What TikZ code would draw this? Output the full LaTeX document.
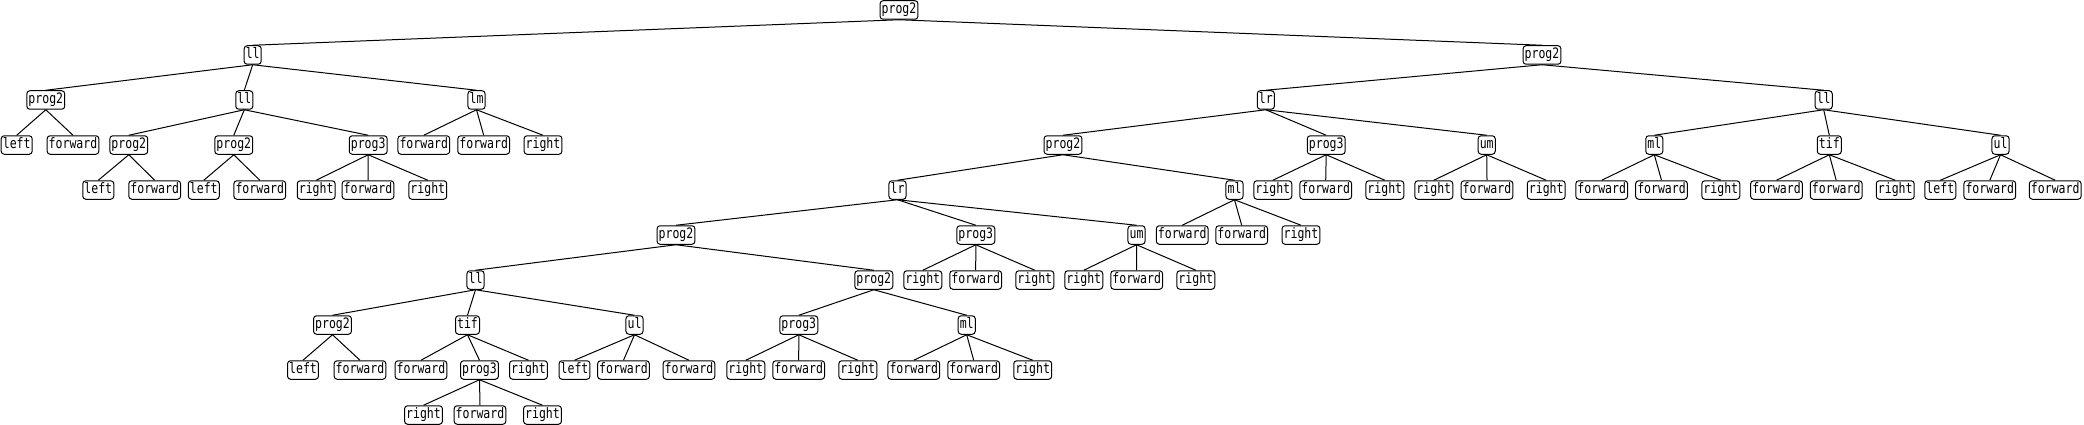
\documentclass[tikz,border=0pt]{standalone}
\usepackage{fontspec}
\setmonofont[FakeStretch=0.8]{DejaVu Sans Mono}

\begin{document}
\begin{tikzpicture}[x=1pt, y=-1pt,
    tn/.style={draw, line width=1pt, rounded corners=3pt,
        inner xsep=1.6pt, inner ysep=0pt, minimum height=18.5pt,
        text height=10.5pt, text depth=3pt,
        font=\ttfamily\fontsize{14.4}{15}\selectfont},
    edge/.style={line width=1pt}]

    % --- Frame (image size in px) ---
    \useasboundingbox (0,0) rectangle (2084,425);

    % --- Root ---
    \node[tn] (r) at (899,10) {prog2};

    % --- Left branch ---
    \node[tn] (r1) at (252.7,55) {ll};
    \node[tn] (r11) at (45.8,100) {prog2};
    \node[tn] (r111) at (16.7,145) {left};
    \node[tn] (r112) at (73,145) {forward};
    \node[tn] (r12) at (244.3,100) {ll};
    \node[tn] (r121) at (128.8,145) {prog2};
    \node[tn] (r1211) at (98.3,190) {left};
    \node[tn] (r1212) at (154.7,190) {forward};
    \node[tn] (r122) at (233.8,145) {prog2};
    \node[tn] (r1221) at (203.8,190) {left};
    \node[tn] (r1222) at (259.8,190) {forward};
    \node[tn] (r123) at (368.2,145) {prog3};
    \node[tn] (r1231) at (316.2,190) {right};
    \node[tn] (r1232) at (368,190) {forward};
    \node[tn] (r1233) at (427.8,190) {right};
    \node[tn] (r13) at (476.5,100) {lm};
    \node[tn] (r131) at (423.8,145) {forward};
    \node[tn] (r132) at (483.7,145) {forward};
    \node[tn] (r133) at (543,145) {right};

    % --- Right branch ---
    \node[tn] (r2) at (1542,55) {prog2};
    \node[tn] (r21) at (1265.8,100) {lr};
    \node[tn] (r211) at (1063,145) {prog2};
    \node[tn] (r2111) at (897.5,190) {lr};
    \node[tn] (r21111) at (676,235) {prog2};
    \node[tn] (r211111) at (475.5,280) {ll};
    \node[tn] (r2111111) at (332.5,325) {prog2};
    \node[tn] (r21111111) at (303,370) {left};
    \node[tn] (r21111112) at (360,370) {forward};
    \node[tn] (r2111112) at (467.5,325) {tif};
    \node[tn] (r21111121) at (421,370) {forward};
    \node[tn] (r21111122) at (479.5,370) {prog3};
    \node[tn] (r211111221) at (423.5,415) {right};
    \node[tn] (r211111222) at (480,415) {forward};
    \node[tn] (r211111223) at (542.5,415) {right};
    \node[tn] (r21111123) at (528.5,370) {right};
    \node[tn] (r2111113) at (634.5,325) {ul};
    \node[tn] (r21111131) at (574.5,370) {left};
    \node[tn] (r21111132) at (623.5,370) {forward};
    \node[tn] (r21111133) at (689,370) {forward};
    \node[tn] (r211112) at (873.8,280) {prog2};
    \node[tn] (r2111121) at (798.8,325) {prog3};
    \node[tn] (r21111211) at (745.8,370) {right};
    \node[tn] (r21111212) at (798.7,370) {forward};
    \node[tn] (r21111213) at (857.8,370) {right};
    \node[tn] (r2111122) at (966.7,325) {ml};
    \node[tn] (r21111221) at (913.8,370) {forward};
    \node[tn] (r21111222) at (973.7,370) {forward};
    \node[tn] (r21111223) at (1032.7,370) {right};
    \node[tn] (r21112) at (975.8,235) {prog3};
    \node[tn] (r211121) at (922.8,280) {right};
    \node[tn] (r211122) at (975.7,280) {forward};
    \node[tn] (r211123) at (1034.8,280) {right};
    \node[tn] (r21113) at (1136.5,235) {um};
    \node[tn] (r211131) at (1083.8,280) {right};
    \node[tn] (r211132) at (1136.7,280) {forward};
    \node[tn] (r211133) at (1195.8,280) {right};
    \node[tn] (r2112) at (1234.5,190) {ml};
    \node[tn] (r21121) at (1182.2,235) {forward};
    \node[tn] (r21122) at (1241.7,235) {forward};
    \node[tn] (r21123) at (1301,235) {right};
    \node[tn] (r212) at (1326.2,145) {prog3};
    \node[tn] (r2121) at (1272.8,190) {right};
    \node[tn] (r2122) at (1325.7,190) {forward};
    \node[tn] (r2123) at (1384.8,190) {right};
    \node[tn] (r213) at (1486.7,145) {um};
    \node[tn] (r2131) at (1433.8,190) {right};
    \node[tn] (r2132) at (1487,190) {forward};
    \node[tn] (r2133) at (1546.2,190) {right};
    \node[tn] (r22) at (1823.7,100) {ll};
    \node[tn] (r221) at (1654.3,145) {ml};
    \node[tn] (r2211) at (1601.7,190) {forward};
    \node[tn] (r2212) at (1661.5,190) {forward};
    \node[tn] (r2213) at (1720.8,190) {right};
    \node[tn] (r222) at (1829.3,145) {tif};
    \node[tn] (r2221) at (1776.5,190) {forward};
    \node[tn] (r2222) at (1836.2,190) {forward};
    \node[tn] (r2223) at (1895.2,190) {right};
    \node[tn] (r223) at (2000.5,145) {ul};
    \node[tn] (r2231) at (1940.3,190) {left};
    \node[tn] (r2232) at (1989.8,190) {forward};
    \node[tn] (r2233) at (2055.2,190) {forward};

    % --- Edges (parent bottom to child top) ---
    \foreach \p/\c in {r/r1, r/r2,
        r1/r11, r1/r12, r1/r13, r11/r111, r11/r112,
        r12/r121, r12/r122, r12/r123, r121/r1211, r121/r1212,
        r122/r1221, r122/r1222, r123/r1231, r123/r1232, r123/r1233,
        r13/r131, r13/r132, r13/r133,
        r2/r21, r2/r22, r21/r211, r21/r212, r21/r213,
        r211/r2111, r211/r2112, r2111/r21111, r2111/r21112, r2111/r21113,
        r21111/r211111, r21111/r211112,
        r211111/r2111111, r211111/r2111112, r211111/r2111113,
        r2111111/r21111111, r2111111/r21111112,
        r2111112/r21111121, r2111112/r21111122, r2111112/r21111123,
        r21111122/r211111221, r21111122/r211111222, r21111122/r211111223,
        r2111113/r21111131, r2111113/r21111132, r2111113/r21111133,
        r211112/r2111121, r211112/r2111122,
        r2111121/r21111211, r2111121/r21111212, r2111121/r21111213,
        r2111122/r21111221, r2111122/r21111222, r2111122/r21111223,
        r21112/r211121, r21112/r211122, r21112/r211123,
        r21113/r211131, r21113/r211132, r21113/r211133,
        r2112/r21121, r2112/r21122, r2112/r21123,
        r212/r2121, r212/r2122, r212/r2123,
        r213/r2131, r213/r2132, r213/r2133,
        r22/r221, r22/r222, r22/r223,
        r221/r2211, r221/r2212, r221/r2213,
        r222/r2221, r222/r2222, r222/r2223,
        r223/r2231, r223/r2232, r223/r2233}
        \draw[edge] (\p.south) -- (\c.north);

\end{tikzpicture}
\end{document}
